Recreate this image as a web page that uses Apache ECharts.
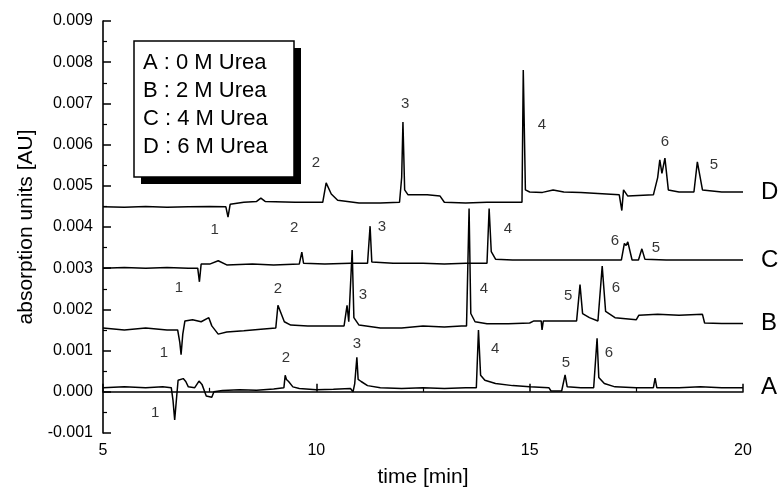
<!DOCTYPE html>
<html>
<head>
<meta charset="utf-8">
<script src="https://cdn.jsdelivr.net/npm/echarts@6/dist/echarts.min.js"></script>
<style>html,body{margin:0;padding:0;background:#fff;}#c{width:781px;height:494px;}</style>
</head>
<body>
<div id="c"></div>
<script>
// Trace A : 0 M Urea  [time(min), absorbance(AU)]
var traceA = [[5.0,0.0001],[5.5,0.00012],[6.0,0.0001],[6.4,0.00012],[6.6,0.0001],[6.64,-0.0002],[6.68,-0.00068],[6.72,-0.0002],[6.76,0.00028],[6.8,0.0003],[6.88,0.00032],[6.94,0.00025],[7.0,0.00012],[7.15,0.0001],[7.25,0.00026],[7.32,0.00018],[7.42,-0.0001],[7.55,-0.00013],[7.6,0.0],[7.8,0.00003],[8.2,0.00005],[8.6,0.00004],[9.0,0.00007],[9.24,0.0001],[9.27,0.0004],[9.3,0.0003],[9.35,0.00025],[9.45,0.00012],[9.6,0.00008],[10.0,0.00005],[10.4,0.00006],[10.8,0.00008],[10.86,0.0],[10.9,0.0002],[10.95,0.00084],[10.98,0.0003],[11.05,0.00025],[11.2,0.00015],[11.5,0.0001],[12.0,0.00008],[12.5,0.0001],[13.0,0.00008],[13.5,0.0001],[13.75,0.0001],[13.8,0.0015],[13.85,0.0004],[13.95,0.00028],[14.2,0.0002],[14.6,0.00015],[15.0,0.00012],[15.45,0.0001],[15.5,0.00002],[15.75,0.00002],[15.83,0.00041],[15.88,0.00012],[16.2,0.0001],[16.5,0.0001],[16.58,0.0013],[16.62,0.00035],[16.75,0.0002],[17.0,0.00012],[17.5,0.0001],[17.9,0.0001],[17.94,0.00033],[17.98,0.0001],[18.5,0.0001],[19.0,0.00012],[19.5,0.0001],[20.0,0.0001]];
// Trace B : 2 M Urea
var traceB = [[5.0,0.00155],[5.5,0.0015],[6.0,0.00155],[6.5,0.0015],[6.75,0.0015],[6.8,0.0012],[6.83,0.0009],[6.87,0.0014],[6.92,0.00172],[7.1,0.00175],[7.3,0.0017],[7.48,0.0018],[7.55,0.0016],[7.7,0.0014],[7.9,0.00145],[8.3,0.00148],[8.7,0.00152],[9.05,0.00155],[9.1,0.0021],[9.13,0.00213],[9.25,0.0017],[9.4,0.00162],[9.8,0.0016],[10.3,0.0016],[10.65,0.0016],[10.72,0.0021],[10.76,0.0017],[10.84,0.00344],[10.88,0.0018],[11.0,0.00162],[11.5,0.00155],[12.0,0.00155],[12.5,0.0016],[13.0,0.00157],[13.4,0.0016],[13.52,0.0016],[13.58,0.00445],[13.62,0.0019],[13.72,0.0017],[14.0,0.00165],[14.5,0.00165],[15.0,0.00167],[15.1,0.00172],[15.27,0.00172],[15.29,0.0015],[15.32,0.00172],[15.8,0.00172],[16.1,0.00172],[16.18,0.0026],[16.24,0.0019],[16.4,0.0018],[16.6,0.00172],[16.7,0.00305],[16.78,0.00195],[17.0,0.0018],[17.5,0.00175],[17.56,0.00186],[18.0,0.00188],[18.5,0.00186],[19.05,0.00188],[19.1,0.00167],[19.5,0.00166],[20.0,0.00166]];
// Trace C : 4 M Urea
var traceC = [[5.0,0.003],[5.5,0.00302],[6.0,0.003],[6.5,0.00302],[7.0,0.003],[7.22,0.003],[7.26,0.00267],[7.3,0.0031],[7.5,0.0031],[7.7,0.00318],[7.9,0.00308],[8.5,0.0031],[9.0,0.00308],[9.6,0.0031],[9.66,0.00339],[9.7,0.00312],[10.2,0.0031],[10.8,0.00312],[11.2,0.00312],[11.26,0.00402],[11.3,0.00315],[11.8,0.00312],[12.5,0.00312],[13.0,0.0031],[13.5,0.00312],[14.0,0.00312],[14.05,0.00445],[14.1,0.0034],[14.2,0.00322],[14.6,0.0032],[15.5,0.0032],[16.5,0.0032],[17.15,0.0032],[17.22,0.0036],[17.26,0.00355],[17.3,0.00364],[17.4,0.0032],[17.55,0.0032],[17.63,0.00347],[17.7,0.00322],[18.2,0.0032],[19.0,0.0032],[20.0,0.0032]];
// Trace D : 6 M Urea
var traceD = [[5.0,0.00449],[5.5,0.00448],[6.0,0.0045],[6.5,0.00448],[7.0,0.00449],[7.5,0.0045],[7.88,0.00449],[7.93,0.00424],[7.98,0.00455],[8.3,0.0046],[8.6,0.00462],[8.7,0.0047],[8.8,0.00462],[9.5,0.0046],[10.15,0.0046],[10.23,0.00507],[10.35,0.0048],[10.5,0.00465],[11.0,0.00458],[11.5,0.00458],[11.95,0.0046],[12.0,0.0052],[12.03,0.00655],[12.07,0.0049],[12.15,0.00478],[12.6,0.00478],[12.9,0.00475],[13.0,0.0046],[13.5,0.00458],[14.0,0.0046],[14.5,0.0046],[14.82,0.0046],[14.85,0.00781],[14.9,0.0049],[15.0,0.00485],[15.3,0.00484],[15.55,0.0049],[15.8,0.00485],[16.2,0.00484],[16.8,0.0048],[17.1,0.00478],[17.16,0.0044],[17.2,0.0049],[17.3,0.00475],[17.9,0.00478],[18.0,0.0052],[18.05,0.00563],[18.1,0.0053],[18.17,0.00567],[18.25,0.0049],[18.5,0.00485],[18.85,0.00485],[18.93,0.00558],[19.05,0.0049],[19.5,0.00485],[20.0,0.00485]];

var traceNames = ['A', 'B', 'C', 'D'];
var legendLines = ['A : 0 M Urea', 'B : 2 M Urea', 'C : 4 M Urea', 'D : 6 M Urea'];

// peak number labels [time, absorbance, text]
var peakLabels = [
  [6.22,-0.00052,'1'],[9.29,0.00082,'2'],[10.95,0.00116,'3'],[14.19,0.00104,'4'],[15.85,0.0007,'5'],[16.86,0.00094,'6'],
  [6.43,0.00094,'1'],[9.10,0.0025,'2'],[11.09,0.00235,'3'],[13.93,0.0025,'4'],[15.90,0.00233,'5'],[17.02,0.00252,'6'],
  [6.78,0.00252,'1'],[9.48,0.00398,'2'],[11.54,0.0040,'3'],[14.49,0.00395,'4'],[17.0,0.00366,'6'],[17.96,0.00349,'5'],
  [7.62,0.00393,'1'],[9.99,0.00555,'2'],[12.08,0.00699,'3'],[15.29,0.00648,'4'],[18.17,0.00606,'6'],[19.32,0.0055,'5']
];

var xTicks = { min: 5, max: 20, interval: 5 };
var yTicks = { min: -0.001, max: 0.009, interval: 0.001 };

var FONT = 'Liberation Sans, Arial, sans-serif';
var traces = [traceA, traceB, traceC, traceD];

var series = traces.map(function (d, i) {
  return {
    type: 'line', data: d, showSymbol: false, symbol: 'none', animation: false,
    lineStyle: { color: '#000', width: 1.5 },
    endLabel: { show: true, formatter: traceNames[i], distance: 18, fontSize: 24, color: '#000', fontFamily: FONT },
    z: 2
  };
});
series.push({
  type: 'scatter', data: peakLabels, symbolSize: 0, animation: false, silent: true,
  label: { show: true, position: 'inside', formatter: function (p) { return p.value[2]; }, fontSize: 15, color: '#000', fontFamily: FONT },
  z: 3
});

var legendGraphic = [
  { type: 'rect', shape: { x: 141, y: 48, width: 160, height: 136 }, style: { fill: '#000' }, z: 10 },
  { type: 'rect', shape: { x: 134, y: 41, width: 160, height: 136 }, style: { fill: '#fff', stroke: '#000', lineWidth: 1.5 }, z: 11 }
];
legendLines.forEach(function (t, i) {
  legendGraphic.push({ type: 'text', x: 143, y: 63 + i * 28, z: 12,
    style: { text: t, fill: '#000', font: '22px ' + FONT, textVerticalAlign: 'middle', verticalAlign: 'middle' } });
});

var chart = echarts.init(document.getElementById('c'), null, { renderer: 'canvas' });
chart.setOption({
  animation: false,
  backgroundColor: '#fff',
  grid: { left: 103, right: 38, top: 21, bottom: 61, containLabel: false },
  xAxis: {
    type: 'value', min: xTicks.min, max: xTicks.max, interval: xTicks.interval,
    name: 'time [min]', nameLocation: 'middle', nameGap: 34,
    nameTextStyle: { fontSize: 21, color: '#000', fontFamily: FONT, verticalAlign: 'top' },
    axisLine: { show: true, lineStyle: { color: '#000', width: 1.6 } },
    axisTick: { show: true, inside: true, length: 8, lineStyle: { color: '#000', width: 1.5 } },
    minorTick: { show: true, splitNumber: 2, length: 4, lineStyle: { color: '#000', width: 1.2 } },
    axisLabel: { fontSize: 16, color: '#000', margin: 10, fontFamily: FONT },
    splitLine: { show: false }
  },
  yAxis: {
    type: 'value', min: yTicks.min, max: yTicks.max, interval: yTicks.interval,
    name: 'absorption units [AU]', nameLocation: 'middle', nameGap: 66, nameRotate: 90,
    nameTextStyle: { fontSize: 21, color: '#000', fontFamily: FONT },
    axisLine: { show: true, lineStyle: { color: '#000', width: 1.6 } },
    axisTick: { show: true, inside: true, length: 8, lineStyle: { color: '#000', width: 1.5 } },
    minorTick: { show: true, splitNumber: 2, length: 4, lineStyle: { color: '#000', width: 1.2 } },
    axisLabel: { fontSize: 16, color: '#000', margin: 10, fontFamily: FONT,
      formatter: function (v) { return v.toFixed(3); } },
    splitLine: { show: false }
  },
  series: series,
  graphic: legendGraphic
});
</script>
</body>
</html>
